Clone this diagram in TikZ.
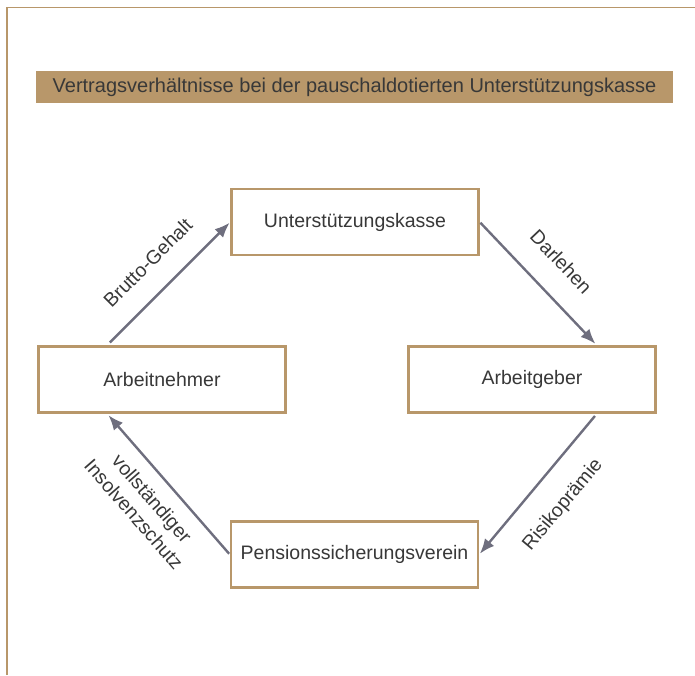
\documentclass[tikz,border=0pt]{standalone}
\usepackage{fontspec}
\setmainfont{Liberation Sans}
\usepackage{tikz}
\usetikzlibrary{arrows.meta,calc}

\definecolor{tan}{HTML}{B8976A}
\definecolor{arrowgray}{HTML}{6E6E7E}
\definecolor{textgray}{HTML}{383838}

\begin{document}
\begin{tikzpicture}[x=1pt, y=-1pt]

\tikzstyle{box} = [draw=tan, line width=2.4pt, fill=white, minimum width=247pt, minimum height=66pt, inner sep=0pt, text=textgray, font=\fontsize{19.5}{23}\selectfont]
\tikzstyle{title_bar} = [fill=tan, minimum width=637pt, minimum height=32pt, inner sep=0pt, text=textgray, font=\fontsize{20}{23}\selectfont]
\tikzstyle{flow} = [-{Latex[length=15pt, width=12pt]}, line width=2.4pt, draw=arrowgray]
\tikzstyle{flow_label} = [sloped, text=textgray, font=\fontsize{19.5}{24}\selectfont, align=center]

\useasboundingbox (0,0) rectangle (695,675);

%------------------------------------------------------------
	\draw[tan, line width=1.5pt] (7,675) -- (7,7.5) -- (695,7.5);
	\node[title_bar] (title) at (354.5,87) {Vertragsverhältnisse bei der pauschaldotierten Unterstützungskasse};

%------------------------------------------------------------
	\node[box] (uk) at (355,222) {Unterstützungskasse};
	\node[box] (an) at (162,379.5) {Arbeitnehmer};
	\node[box] (ag) at (532,379.5) {Arbeitgeber};
	\node[box] (psv) at (354.5,554.5) {Pensionssicherungsverein};

%------------------------------------------------------------
	\draw[flow, shorten <=4pt, shorten >=1pt] ($(an.north west)!0.28!(an.north east)$) -- node[flow_label, above=18pt] {Brutto-Gehalt} (uk.west);
	\draw[flow, shorten <=1pt, shorten >=2pt] (uk.east) -- node[flow_label, above=20pt] {Darlehen} ($(ag.north west)!0.76!(ag.north east)$);
	\draw[flow, shorten <=3pt, shorten >=1pt] ($(ag.south west)!0.76!(ag.south east)$) -- node[flow_label, below=19pt] {Risikoprämie} (psv.east);
	\draw[flow, shorten <=1pt, shorten >=2pt] (psv.west) -- node[flow_label, below=10pt] {vollständiger\\Insolvenzschutz} ($(an.south west)!0.28!(an.south east)$);

\end{tikzpicture}
\end{document}
